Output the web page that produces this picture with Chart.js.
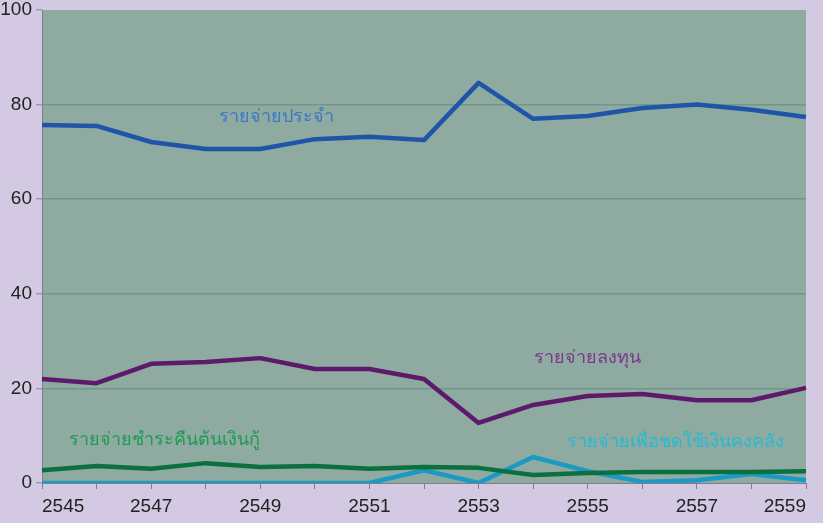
<!DOCTYPE html>
<html>
<head>
<meta charset="utf-8">
<script src="https://cdn.jsdelivr.net/npm/chart.js@4"></script>
<style>
  html, body { margin: 0; padding: 0; background: #d3c9e3; }
  #wrap { width: 823px; height: 523px; }
</style>
</head>
<body>
<div id="wrap"><canvas id="c" width="823" height="523"></canvas></div>
<script>
const years = ['2545','2546','2547','2548','2549','2550','2551','2552','2553','2554','2555','2556','2557','2558','2559']
const regular = [75.7, 75.5, 72.1, 70.6, 70.6, 72.7, 73.2, 72.5, 84.6, 77.0, 77.6, 79.3, 80.0, 78.9, 77.4]
const investment = [22.0, 21.1, 25.2, 25.6, 26.4, 24.1, 24.1, 22.0, 12.7, 16.5, 18.4, 18.8, 17.5, 17.5, 20.1]
const debtRepay = [2.7, 3.6, 3.0, 4.2, 3.4, 3.6, 3.0, 3.4, 3.2, 1.7, 2.1, 2.3, 2.3, 2.3, 2.5]
const treasury = [0, 0, 0, 0, 0, 0, 0, 2.7, 0, 5.5, 2.5, 0.2, 0.6, 1.9, 0.6]
const yTicks = [0, 20, 40, 60, 80, 100]

// text labels placed in data units (x = index of year, y = value)
const seriesLabels = [
  { text: 'รายจ่ายประจำ', x: 4.3, y: 77.3, color: '#3b78c6' },
  { text: 'รายจ่ายลงทุน', x: 10.0, y: 26.4, color: '#7b3890' },
  { text: 'รายจ่ายชำระคืนต้นเงินกู้', x: 2.25, y: 9.1, color: '#1a9c52' },
  { text: 'รายจ่ายเพื่อชดใช้เงินคงคลัง', x: 11.6, y: 8.7, color: '#22bcd6' }
]

const bgPlugin = {
  id: 'bg',
  beforeDraw(chart) {
    const ctx = chart.ctx, a = chart.chartArea
    ctx.save()
    ctx.fillStyle = '#d3c9e3'
    ctx.fillRect(0, 0, chart.width, chart.height)
    ctx.fillStyle = '#8eaaa1'
    ctx.fillRect(a.left, a.top, a.right - a.left, a.bottom - a.top)
    ctx.restore()
  }
}

const labelPlugin = {
  id: 'seriesText',
  afterDatasetsDraw(chart) {
    const ctx = chart.ctx
    const xs = chart.scales.x, ys = chart.scales.y
    ctx.save()
    ctx.font = '18px "Noto Sans", sans-serif'
    ctx.textAlign = 'center'
    ctx.textBaseline = 'middle'
    seriesLabels.forEach(l => {
      ctx.fillStyle = l.color
      ctx.fillText(l.text, xs.getPixelForValue(l.x), ys.getPixelForValue(l.y))
    })
    ctx.restore()
  }
}

const mk = (data, color) => ({
  data: data,
  borderColor: color,
  backgroundColor: color,
  borderWidth: 4.5,
  pointRadius: 0,
  tension: 0,
  borderJoinStyle: 'round'
})

new Chart(document.getElementById('c'), {
  type: 'line',
  data: {
    labels: years,
    datasets: [
      mk(debtRepay, '#0b7040'),
      mk(treasury, '#1a9ac4'),
      mk(investment, '#5d1a6c'),
      mk(regular, '#1f55a8')
    ]
  },
  options: {
    responsive: false,
    animation: false,
    layout: { padding: { top: 10, right: 17, left: 0, bottom: 0 } },
    plugins: { legend: { display: false }, tooltip: { enabled: false } },
    scales: {
      x: {
        afterFit: s => { s.height = 40 },
        grid: { drawOnChartArea: false, drawTicks: true, tickLength: 6, color: '#7d7d8c' },
        border: { color: '#7d7d8c', width: 1 },
        ticks: {
          autoSkip: false,
          maxRotation: 0,
          align: 'inner',
          padding: 6,
          color: '#222',
          font: { family: 'Liberation Sans, Arial, sans-serif', size: 19 },
          callback: (v, i) => i % 2 === 0 ? years[i] : ''
        }
      },
      y: {
        min: 0,
        max: 100,
        afterFit: s => { s.width = 42; s.paddingTop = 0 },
        afterBuildTicks: s => { s.ticks = yTicks.map(v => ({ value: v })) },
        grid: {
          color: (c) => c.tick && (c.tick.value === 0 || c.tick.value === 100) ? 'rgba(0,0,0,0)' : '#71968b',
          tickColor: '#9a9aa8',
          tickLength: 6,
          lineWidth: 1.5
        },
        border: { color: '#7d7d8c', width: 1 },
        ticks: {
          padding: 4,
          color: '#222',
          font: { family: 'Liberation Sans, Arial, sans-serif', size: 19 }
        }
      }
    }
  },
  plugins: [bgPlugin, labelPlugin]
})
</script>
</body>
</html>
